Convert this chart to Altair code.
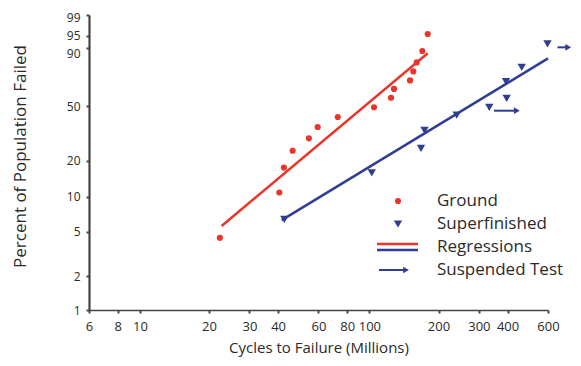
import math
import altair as alt
import pandas as pd

# ---- data (cycles in millions, percent failed) ----
ground_cycles = [22.3, 40.5, 42.4, 46.3, 54.5, 59.5, 72.8, 104.7, 124.2, 128.0, 150.3, 155.3, 160.7, 170.1, 179.5]
ground_pct = [4.4, 10.9, 17.6, 24.0, 29.9, 36.2, 42.5, 49.2, 56.2, 62.9, 69.4, 76.0, 82.1, 88.7, 95.5]

super_cycles = [42.6, 102.4, 167.8, 173.8, 240.1, 332.9, 396.4, 393.7, 460.9, 597]
super_pct = [6.4, 15.9, 25.1, 34.2, 43.8, 49.2, 55.7, 68.4, 78.8, 92.0]

reg_ground_cycles = [22.7, 179.5]
reg_ground_pct = [5.6, 87.5]
reg_super_cycles = [41.5, 600]
reg_super_pct = [6.3, 84.6]

susp_start = [349, 660]
susp_end = [439, 735]
susp_pct = [46.8, 90.5]

x_ticks = [6, 8, 10, 20, 30, 40, 60, 80, 100, 200, 300, 400, 600]
y_ticks = [1, 2, 5, 10, 20, 50, 90, 95, 99]

legend_labels = ["Ground", "Superfinished", "Regressions", "Suspended Test"]

RED = "#e8362c"
BLUE = "#2f3d92"
TXT = "#2a2a2a"
FONT = "Open Sans"


def weib(p):
    return math.log(-math.log(1 - p / 100.0))


y_vals = [weib(p) for p in y_ticks]
W_EXPR = "log(-log(1 - datum.pct/100))"

xscale = alt.Scale(type="log", domain=[6, 600], nice=False)
yscale = alt.Scale(domain=[weib(1), weib(99)], nice=False, zero=False)

xaxis = alt.Axis(values=x_ticks, title="Cycles to Failure (Millions)", labelFlush=False,
                 labelOverlap=False, labelBound=False, format="d", tickSize=3, tickWidth=2,
                 labelPadding=7, domainWidth=1.5, titleY=37, titleBaseline="middle",
                 titleFontSize=15, labelFontSize=13)
yaxis = alt.Axis(values=y_vals, title="Percent of Population Failed",
                 labelExpr="format(100*(1-exp(-exp(datum.value))), '.0f')",
                 labelBaseline=alt.condition("datum.value > 0.5 && datum.value < 1",
                                             alt.value("top"), alt.value("middle")),
                 labelOffset=alt.condition("datum.value > 1.3", alt.value(2), alt.value(0)),
                 labelOverlap=False, labelFlush=False, labelBound=False, tickSize=3, tickWidth=2,
                 labelPadding=6, domainWidth=2.2, titleX=-69, titleY=141, titleAngle=-90,
                 titleAlign="center", titleBaseline="middle", titleFontSize=17, labelFontSize=12)


def XE(field):
    return alt.X(field, type="quantitative", scale=xscale, axis=xaxis)


def YE():
    return alt.Y("w:Q", scale=yscale, axis=yaxis)


ground_df = pd.DataFrame({"cycles": ground_cycles, "pct": ground_pct})
super_df = pd.DataFrame({"cycles": super_cycles, "pct": super_pct})
rg_df = pd.DataFrame({"cycles": reg_ground_cycles, "pct": reg_ground_pct})
rs_df = pd.DataFrame({"cycles": reg_super_cycles, "pct": reg_super_pct})
susp_df = pd.DataFrame({"start": susp_start, "end": susp_end, "pct": susp_pct})

rg_line = alt.Chart(rg_df).transform_calculate(w=W_EXPR).mark_line(
    color=RED, strokeWidth=2.5).encode(x=XE("cycles"), y=YE())
rs_line = alt.Chart(rs_df).transform_calculate(w=W_EXPR).mark_line(
    color=BLUE, strokeWidth=2.5).encode(x=XE("cycles"), y=YE())

ground_pts = alt.Chart(ground_df).transform_calculate(w=W_EXPR).mark_circle(
    color=RED, size=38, opacity=1).encode(x=XE("cycles"), y=YE())
super_pts = alt.Chart(super_df).transform_calculate(w=W_EXPR).mark_point(
    shape="triangle-down", filled=True, color=BLUE, size=70, opacity=1).encode(
    x=XE("cycles"), y=YE())

susp_base = alt.Chart(susp_df).transform_calculate(w=W_EXPR)
susp_rule = susp_base.mark_rule(color=BLUE, strokeWidth=2).encode(
    x=XE("start"), x2="end:Q", y=YE())
susp_head = susp_base.mark_point(shape="triangle-right", filled=True, color=BLUE, size=45,
                                 opacity=1).encode(x=XE("end"), y=YE())

# ---- legend (drawn in the plot area) ----
one = pd.DataFrame({"k": [0]})
lx, tx = 309, 348
rows = [186, 209, 232, 255]
leg = [
    alt.Chart(one).mark_circle(color=RED, size=38, opacity=1).encode(
        x=alt.value(lx), y=alt.value(rows[0])),
    alt.Chart(one).mark_point(shape="triangle-down", filled=True, color=BLUE, size=70,
                              opacity=1).encode(x=alt.value(lx), y=alt.value(rows[1])),
    alt.Chart(one).mark_rule(color=RED, strokeWidth=2.5).encode(
        x=alt.value(288), x2=alt.value(329), y=alt.value(rows[2] - 3)),
    alt.Chart(one).mark_rule(color=BLUE, strokeWidth=2.5).encode(
        x=alt.value(288), x2=alt.value(329), y=alt.value(rows[2] + 3)),
    alt.Chart(one).mark_rule(color=BLUE, strokeWidth=2).encode(
        x=alt.value(290), x2=alt.value(316), y=alt.value(rows[3])),
    alt.Chart(one).mark_point(shape="triangle-right", filled=True, color=BLUE, size=45,
                              opacity=1).encode(x=alt.value(317), y=alt.value(rows[3])),
]
for lab, ry in zip(legend_labels, rows):
    leg.append(alt.Chart(one).mark_text(align="left", baseline="middle", fontSize=17,
                                        font=FONT, color=TXT).encode(
        x=alt.value(tx), y=alt.value(ry), text=alt.value(lab)))

chart = alt.layer(rg_line, rs_line, ground_pts, super_pts, susp_rule, susp_head, *leg).properties(
    width=459, height=295,
    padding={"left": 81, "top": 7, "right": 25, "bottom": 48},
    autosize=alt.AutoSizeParams(type="none"),
).configure_view(stroke=None).configure_axis(
    grid=False, domainColor="#444", tickColor="#444", labelColor=TXT, titleColor=TXT,
    labelFont=FONT, titleFont=FONT, titleFontWeight="normal",
)

chart.save("out.html", embed_options={"renderer": "svg", "actions": False})
